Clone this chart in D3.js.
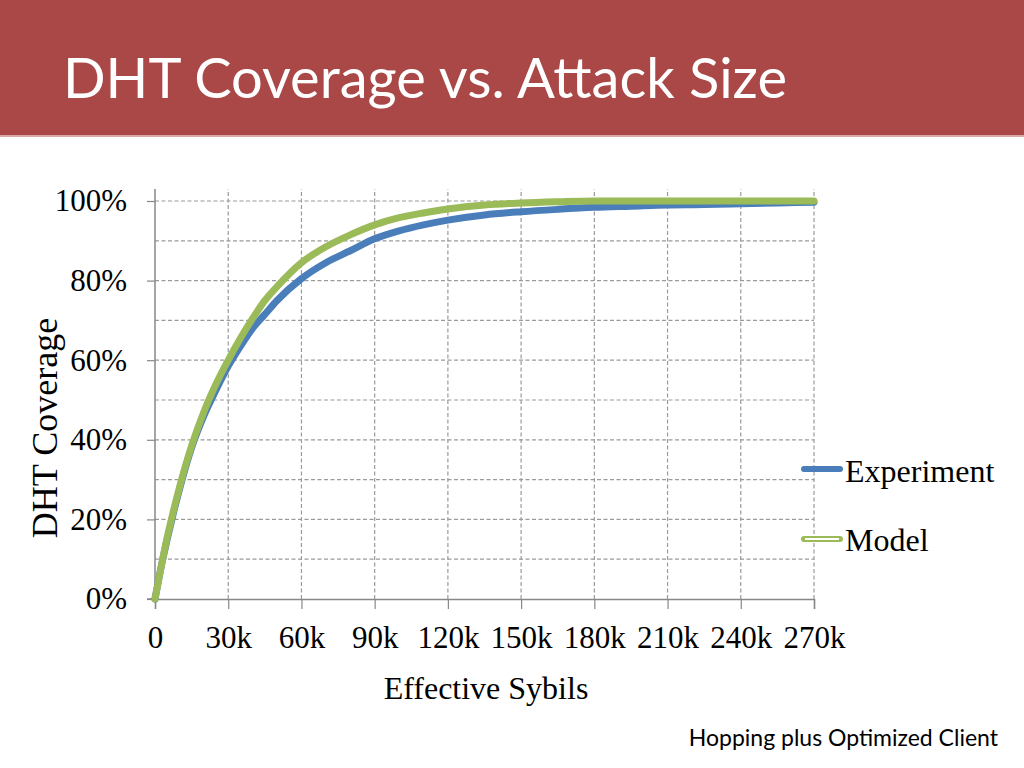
<!DOCTYPE html>
<html><head><meta charset="utf-8">
<script src="https://cdn.jsdelivr.net/npm/d3@7"></script>
<style>body{margin:0;background:#fff}svg{display:block}</style>
</head><body>
<script>
// Data (x in thousands of effective Sybils, y in % coverage)
const xTicks = [0, 30, 60, 90, 120, 150, 180, 210, 240, 270];
const xTickLabels = ["0", "30k", "60k", "90k", "120k", "150k", "180k", "210k", "240k", "270k"];
const yTicks = [0, 20, 40, 60, 80, 100];
const yTickLabels = ["0%", "20%", "40%", "60%", "80%", "100%"];
const experimentX = [0,2.5,5,7.5,10,15,20,25,30,35,40,45,50,60,70,80,90,100,110,120,135,150,165,180,195,210,225,240,255,270];
const experimentY = [0,8,15,21.5,27.5,38,46,52.5,58.5,63.5,68,71.5,75,80.5,84.5,87.5,90.5,92.5,94,95.2,96.5,97.3,97.9,98.4,98.7,99,99.1,99.3,99.5,99.7];
const modelX = [0,2.5,5,7.5,10,15,20,25,30,35,40,45,50,60,70,80,90,100,110,120,135,150,165,180,195,210,225,240,255,270];
const modelY = [0,8,15.5,22,28,38.5,47,54,60,65.5,70.5,75,78.5,84.5,88.5,91.5,94,95.8,97,98,99,99.5,99.8,100,100,100,100,100,100,100];
const seriesNames = ["Experiment", "Model"];
const title = "DHT Coverage vs. Attack Size";
const xTitle = "Effective Sybils";
const yTitle = "DHT Coverage";
const footnote = "Hopping plus Optimized Client";

const W = 1024, H = 768;
const serif = "'Liberation Serif', 'Times New Roman', serif";
const svg = d3.select("body").append("svg").attr("width", W).attr("height", H);

// Title band
svg.append("rect").attr("x",0).attr("y",0).attr("width",W).attr("height",135).attr("fill","#A94846");
svg.append("rect").attr("x",0).attr("y",135).attr("width",W).attr("height",2).attr("fill","#D9A9A8");
svg.append("text").attr("x",63).attr("y",98).text(title)
  .attr("font-family","Lato, 'Open Sans', sans-serif").attr("font-size",56).attr("fill","#fff")
  .attr("textLength",724).attr("lengthAdjust","spacingAndGlyphs");

const x = d3.scaleLinear().domain([0,270]).range([155,814]);
const y = d3.scaleLinear().domain([0,100]).range([599,201]);

const grid = svg.append("g");
// horizontal gridlines every 10%
d3.range(10,101,10).forEach(v => {
  grid.append("line").attr("x1",x(0)).attr("x2",x(270)).attr("y1",y(v)).attr("y2",y(v))
    .attr("stroke","#9a9a9a").attr("stroke-width",1.2).attr("stroke-dasharray","4,2.5");
});
// vertical gridlines
xTicks.slice(1).forEach(v => {
  grid.append("line").attr("x1",x(v)).attr("x2",x(v)).attr("y1",y(0)).attr("y2",189)
    .attr("stroke","#9a9a9a").attr("stroke-width",1.2).attr("stroke-dasharray","4,2.5");
});

// Axes
const xAxis = d3.axisBottom(x).tickValues(xTicks).tickFormat((d,i)=>xTickLabels[i]).tickSize(10).tickPadding(17);
const gx = svg.append("g").attr("transform",`translate(0,${y(0)})`).call(xAxis);
gx.select(".domain").attr("stroke","#888").attr("stroke-width",1.5);
gx.selectAll(".tick line").attr("stroke","#888").attr("stroke-width",1.2);
gx.selectAll("text").attr("font-family",serif).attr("font-size",31).attr("fill","#000");

const yAxis = d3.axisLeft(y).tickValues(yTicks).tickFormat((d,i)=>yTickLabels[i]).tickSize(8).tickPadding(20);
const gy = svg.append("g").attr("transform",`translate(${x(0)},0)`).call(yAxis);
gy.select(".domain").attr("stroke","#888").attr("stroke-width",1.5).attr("d", `M-8,${y(0)}H0V189`);
gy.selectAll(".tick line").attr("stroke","#888").attr("stroke-width",1.2);
gy.selectAll("text").attr("font-family",serif).attr("font-size",31).attr("fill","#000");

// Lines
const line = d3.line().x(d=>x(d[0])).y(d=>y(d[1])).curve(d3.curveMonotoneX);
const expData = experimentX.map((v,i)=>[v,experimentY[i]]);
const modData = modelX.map((v,i)=>[v,modelY[i]]);
svg.append("path").datum(expData).attr("d",line).attr("fill","none").attr("stroke","#4A7EBB").attr("stroke-width",7).attr("stroke-linecap","round");
svg.append("path").datum(modData).attr("d",line).attr("fill","none").attr("stroke","#9BBB59").attr("stroke-width",7).attr("stroke-linecap","round");

// Axis titles
svg.append("text").attr("x",486).attr("y",699).attr("text-anchor","middle").text(xTitle)
  .attr("font-family",serif).attr("font-size",32);
svg.append("text").attr("transform","translate(57,428) rotate(-90)").attr("text-anchor","middle").text(yTitle)
  .attr("font-family",serif).attr("font-size",36);

// Legend
const lg = svg.append("g");
lg.append("line").attr("x1",804).attr("x2",840).attr("y1",469).attr("y2",469).attr("stroke","#4A7EBB").attr("stroke-width",6).attr("stroke-linecap","round");
lg.append("text").attr("x",845).attr("y",482).text(seriesNames[0]).attr("font-family",serif).attr("font-size",32);
lg.append("line").attr("x1",804).attr("x2",840).attr("y1",539).attr("y2",539).attr("stroke","#9BBB59").attr("stroke-width",6).attr("stroke-linecap","round");
lg.append("line").attr("x1",805).attr("x2",839).attr("y1",539).attr("y2",539).attr("stroke","#fff").attr("stroke-width",2.2);
lg.append("text").attr("x",845).attr("y",551).text(seriesNames[1]).attr("font-family",serif).attr("font-size",32);

// Footnote
svg.append("text").attr("x",998).attr("y",746).attr("text-anchor","end").text(footnote)
  .attr("font-family","Lato, 'Open Sans', sans-serif").attr("font-size",23).attr("fill","#000");
</script>
</body></html>
